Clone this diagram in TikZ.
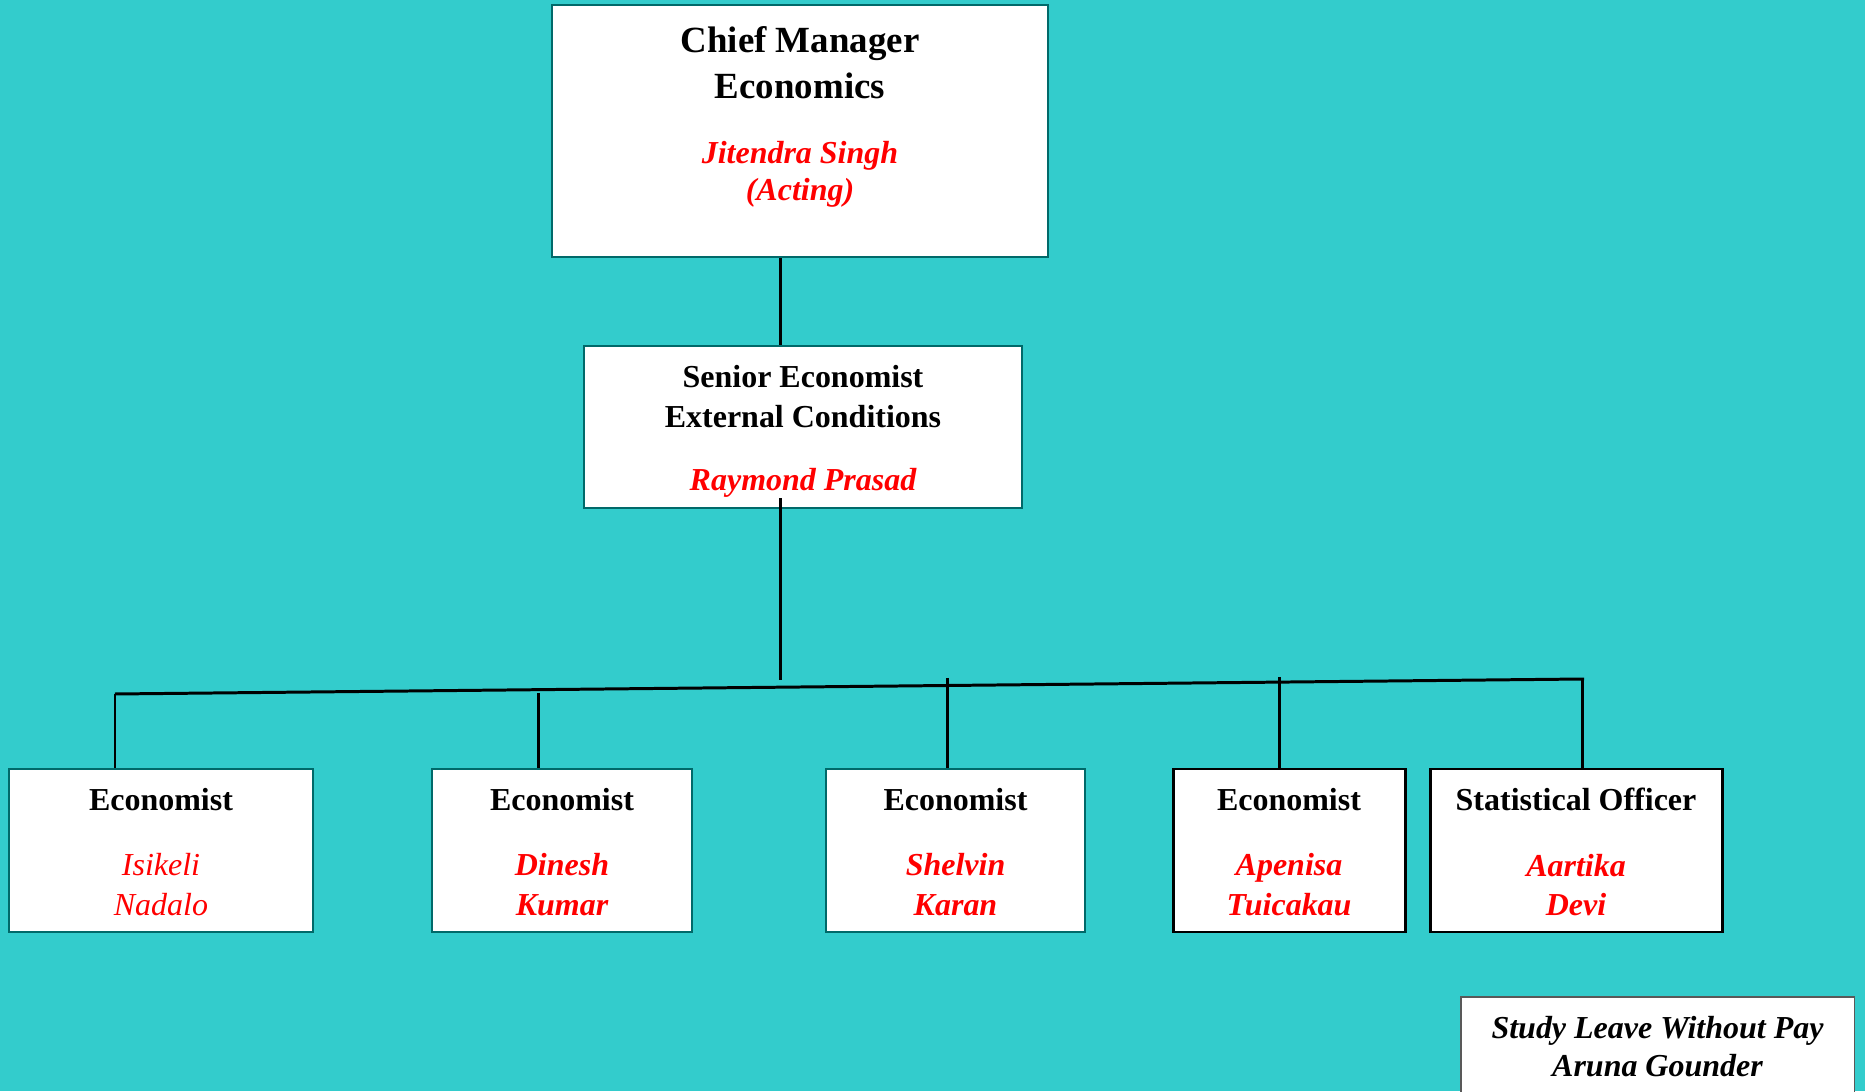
\documentclass[tikz,border=0pt]{standalone}
\usepackage{fontspec}
\setmainfont{Liberation Serif}
\usetikzlibrary{positioning}

\definecolor{bgteal}{RGB}{51,204,204}
\definecolor{edgeteal}{RGB}{0,105,105}

\newcommand{\who}[1]{{\color{red}\itshape #1}}
\newcommand{\bigtitle}[1]{{\fontsize{10.5}{11.2}\selectfont #1}}

\tikzset{
  post/.style={draw=edgeteal, line width=0.7pt, fill=white, align=center, inner sep=0pt,
    font=\fontsize{9.1}{11.2}\selectfont\bfseries},
  postdark/.style={post, draw=black, line width=0.85pt},
  leavebox/.style={post, draw=black!65, line width=0.3pt, font=\fontsize{9.1}{10.8}\selectfont\bfseries\itshape},
  link/.style={line width=0.85pt}
}

\begin{document}
\begin{tikzpicture}
    % Background
    \useasboundingbox (0,0) rectangle (18.65,10.91);
    \fill[bgteal] (0,0) rectangle (18.65,10.91);

    % Boxes
    \node[post, minimum width=4.96cm, minimum height=2.52cm] (chief) at (8.00,9.60)
        {\bigtitle{Chief Manager}\\[1.7pt]\bigtitle{Economics}\\[7.4pt]\who{Jitendra Singh}\\[-0.6pt]\who{(Acting)}\rule[-9.7pt]{0pt}{9.7pt}};
    \node[post, minimum width=4.38cm, minimum height=1.62cm] (senior) at (8.03,6.64)
        {\rule{0pt}{8.9pt}Senior Economist\\External Conditions\\[6.8pt]\who{Raymond Prasad}};

    \node[post, minimum width=3.04cm, minimum height=1.63cm] (econA) at (1.61,2.405)
        {\rule{0pt}{7.2pt}Economist\\[7.4pt]{\mdseries\who{Isikeli}}\\{\mdseries\who{Nadalo}}};
    \node[post, minimum width=2.60cm, minimum height=1.63cm] (econB) at (5.62,2.405)
        {\rule{0pt}{7.2pt}Economist\\[7.4pt]\who{Dinesh}\\\who{Kumar}};
    \node[post, minimum width=2.59cm, minimum height=1.63cm] (econC) at (9.555,2.405)
        {\rule{0pt}{7.2pt}Economist\\[7.4pt]\who{Shelvin}\\\who{Karan}};
    \node[postdark, minimum width=2.32cm, minimum height=1.63cm] (econD) at (12.89,2.405)
        {\rule{0pt}{7.2pt}Economist\\[7.4pt]\who{Apenisa}\\\who{Tuicakau}};
    \node[postdark, minimum width=2.92cm, minimum height=1.63cm] (stat) at (15.76,2.405)
        {\rule{0pt}{7.2pt}Statistical Officer\\[7.4pt]\who{Aartika}\\\who{Devi}};

    \node[leavebox, minimum width=3.93cm, minimum height=1.04cm] (leave) at (16.575,0.42)
        {Study Leave Without Pay\\Aruna Gounder\rule[-1.6pt]{0pt}{1.6pt}};

    % Trunk
    \coordinate (trunk) at (7.80,4.11);
    \draw[link] (chief.south -| trunk) -- (senior.north -| trunk);
    \draw[link] (senior.south -| trunk) ++(0,0.11) -- (trunk);

    % Bus
    \coordinate (busL) at (1.15,3.97);
    \coordinate (busR) at (15.84,4.12);
    \draw[link] (busL) -- (busR);

    % Drops
    \coordinate (dropA) at (1.15,3.97);
    \coordinate (dropB) at (5.38,3.98);
    \coordinate (dropC) at (9.47,4.13);
    \coordinate (dropD) at (12.79,4.14);
    \coordinate (dropE) at (15.82,4.12);
    \draw[link] (dropA) -- (dropA |- econA.north);
    \draw[link] (dropB) -- (dropB |- econB.north);
    \draw[link] (dropC) -- (dropC |- econC.north);
    \draw[link] (dropD) -- (dropD |- econD.north);
    \draw[link] (dropE) -- (dropE |- stat.north);
\end{tikzpicture}
\end{document}
